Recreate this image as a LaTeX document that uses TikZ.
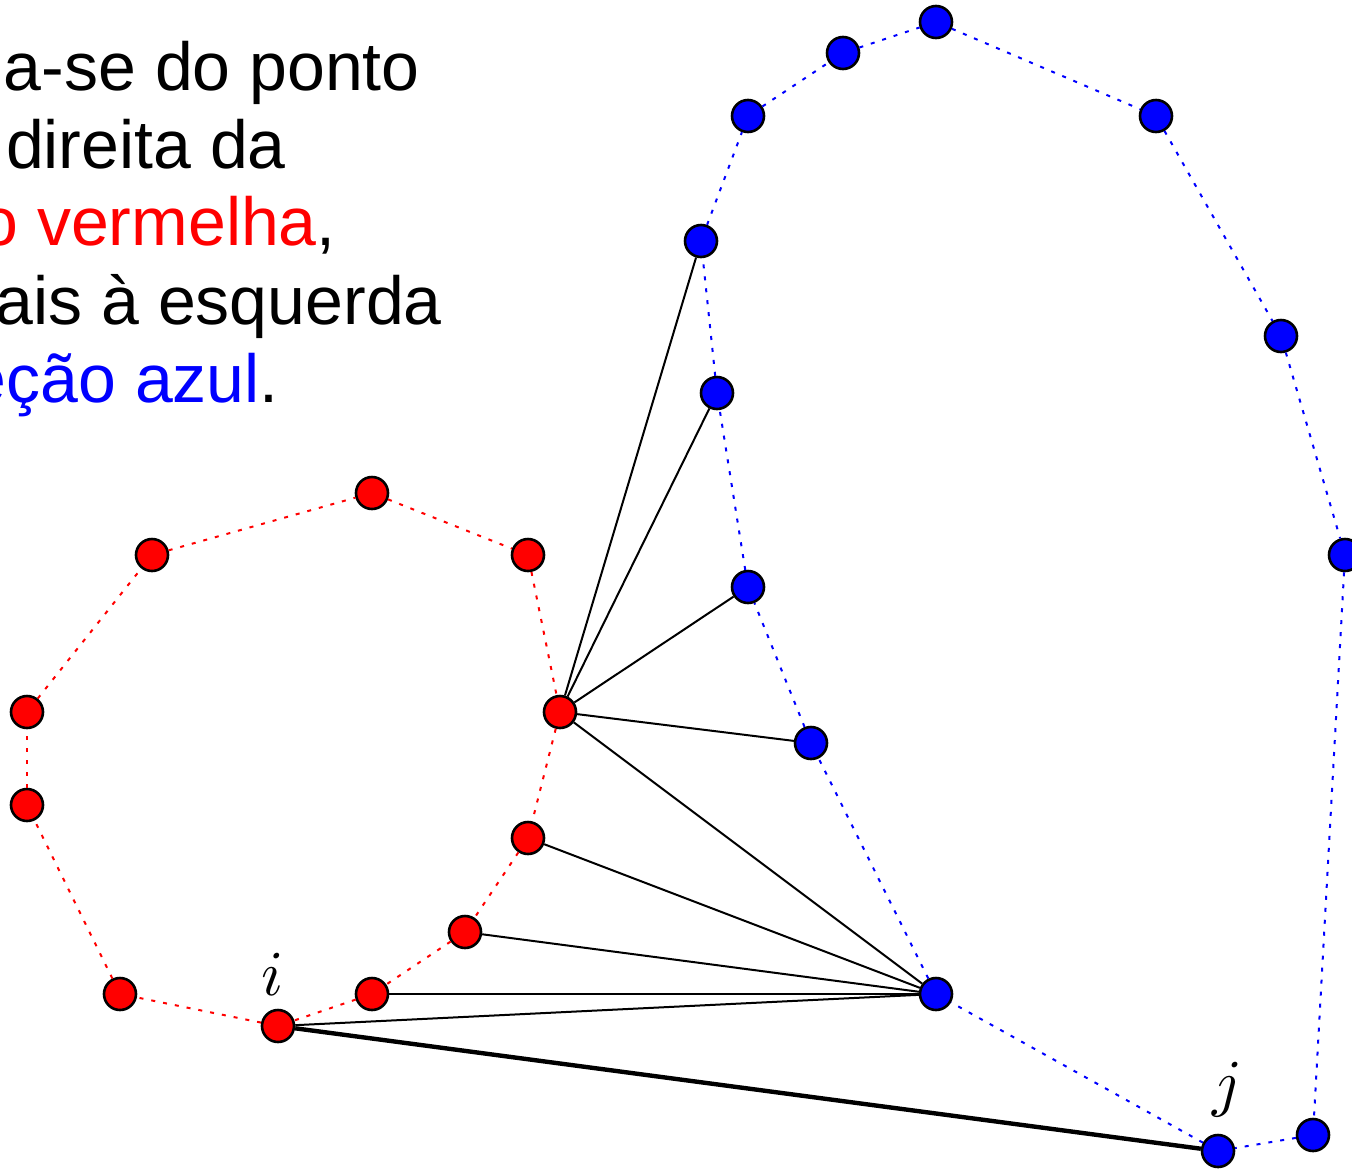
\documentclass[tikz,border=0pt]{standalone}
\usepackage{fontspec}
\setmainfont{Liberation Sans}
\begin{document}
\begin{tikzpicture}[x=1pt,y=-1pt,
  pt/.style={circle,draw=black,line width=2.6pt,minimum size=32pt,inner sep=0pt},
  rpt/.style={pt,fill=red},
  bpt/.style={pt,fill=blue},
  rdot/.style={red,line width=2pt,dash pattern=on 4pt off 8pt},
  bdot/.style={blue,line width=2pt,dash pattern=on 4pt off 8pt},
  link/.style={black,line width=2pt},
  tlink/.style={black,line width=4.4pt},
  txt/.style={anchor=base east,inner sep=0pt,font=\fontsize{68}{78}\selectfont},
  lab/.style={anchor=base,inner sep=0pt,scale=6.4}]
\useasboundingbox (0,0) rectangle (1352,1168);
\clip (0,0) rectangle (1352,1168);
% text
\node[txt] (t1) at (420,90) {a-se do ponto};
\node[txt] (t2) at (286,168) {direita da};
\node[txt] (t3) at (336,245) {\textcolor{red}{o vermelha},};
\node[txt] (t4) at (442,324) {ais à esquerda};
\node[txt] (t5) at (279,402) {\textcolor{blue}{eção azul}.};
% red nodes
\node[rpt] (r1) at (372,493) {};
\node[rpt] (r2) at (152,555) {};
\node[rpt] (r3) at (528,555) {};
\node[rpt] (r4) at (27,712) {};
\node[rpt] (r5) at (560,712) {};
\node[rpt] (r6) at (27,805) {};
\node[rpt] (r7) at (528,838) {};
\node[rpt] (r8) at (465,932) {};
\node[rpt] (r9) at (120,994) {};
\node[rpt] (r10) at (372,994) {};
\node[rpt] (r11) at (278,1026) {};
% blue nodes
\node[bpt] (b1) at (936,22) {};
\node[bpt] (b2) at (843,53) {};
\node[bpt] (b3) at (748,116) {};
\node[bpt] (b4) at (1156,116) {};
\node[bpt] (b5) at (701,241) {};
\node[bpt] (b6) at (1281,336) {};
\node[bpt] (b7) at (717,393) {};
\node[bpt] (b8) at (1345,555) {};
\node[bpt] (b9) at (748,587) {};
\node[bpt] (b10) at (811,743) {};
\node[bpt] (b11) at (936,994) {};
\node[bpt] (b12) at (1218,1151) {};
\node[bpt] (b13) at (1313,1135) {};
% labels
\node[lab] (li) at (273,995) {$i$};
\node[lab] (lj) at (1227,1104) {$j$};
% red polygon
\draw[rdot] (r11)--(r9); \draw[rdot] (r9)--(r6); \draw[rdot] (r6)--(r4);
\draw[rdot] (r4)--(r2); \draw[rdot] (r2)--(r1); \draw[rdot] (r1)--(r3);
\draw[rdot] (r3)--(r5); \draw[rdot] (r5)--(r7); \draw[rdot] (r7)--(r8);
\draw[rdot] (r8)--(r10); \draw[rdot] (r10)--(r11);
% blue polygon
\draw[bdot] (b12)--(b11); \draw[bdot] (b11)--(b10); \draw[bdot] (b10)--(b9);
\draw[bdot] (b9)--(b7); \draw[bdot] (b7)--(b5); \draw[bdot] (b5)--(b3);
\draw[bdot] (b3)--(b2); \draw[bdot] (b2)--(b1); \draw[bdot] (b1)--(b4);
\draw[bdot] (b4)--(b6); \draw[bdot] (b6)--(b8); \draw[bdot] (b8)--(b13);
\draw[bdot] (b13)--(b12);
% links
\draw[link] (r5)--(b5); \draw[link] (r5)--(b7); \draw[link] (r5)--(b9);
\draw[link] (r5)--(b10); \draw[link] (r5)--(b11);
\draw[link] (r7)--(b11); \draw[link] (r8)--(b11); \draw[link] (r10)--(b11);
\draw[link] (r11)--(b11);
\draw[tlink] (r11)--(b12);
\end{tikzpicture}
\end{document}
